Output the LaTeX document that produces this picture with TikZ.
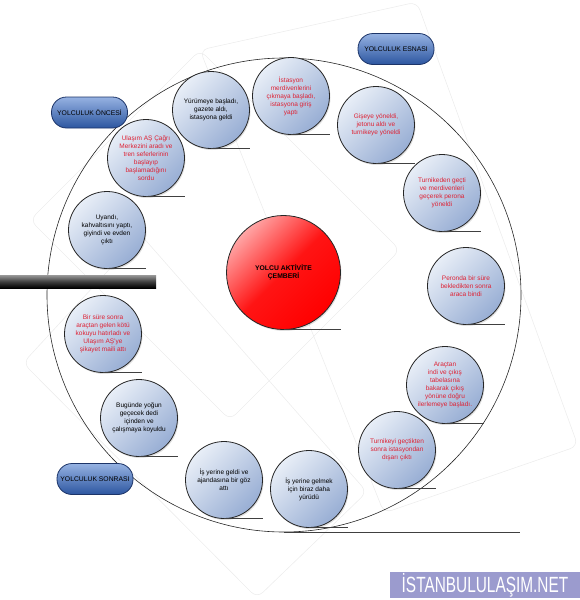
\documentclass[tikz,border=0pt]{standalone}
\usepackage{fontspec}
\setmainfont{Liberation Sans}
\usetikzlibrary{shadows}

\definecolor{olaykirmizi}{RGB}{222,34,52}
\definecolor{balonacik}{RGB}{232,238,247}
\definecolor{balonkoyu}{RGB}{152,174,212}
\definecolor{evreacik}{RGB}{150,178,226}
\definecolor{evrekoyu}{RGB}{44,86,160}
\definecolor{evrecizgi}{RGB}{28,52,104}
\definecolor{logomavi}{RGB}{155,155,206}

\begin{document}
\begin{tikzpicture}[x=1pt, y=-1pt,
  olay/.style={circle, draw=black!85, line width=0.8pt, minimum size=77pt,
               inner sep=0pt, align=center, font=\fontsize{6.5}{8}\selectfont,
               top color=balonacik, bottom color=balonkoyu, shading angle=45,
               drop shadow={opacity=0.25, shadow xshift=1pt, shadow yshift=-1.5pt}},
  kirmizi/.style={olay, text=olaykirmizi},
  evre/.style={rounded corners=15pt, draw=evrecizgi, line width=0.8pt,
               minimum width=76pt, minimum height=31pt, inner sep=1pt,
               font=\fontsize{6.8}{8}\selectfont,
               top color=evreacik, bottom color=evrekoyu},
  taban/.style={draw=black!75, line width=1pt},
  zemin/.style={draw=black!7, line width=0.6pt, rounded corners=8pt}
]
  \useasboundingbox (0,0) rectangle (579,600);

  % ========== faint background planes ==========
  \draw[zemin] (200,50) -- (417,2) -- (578,446) -- (384,513) -- cycle;
  \draw[zemin] (200,50) -- (30,220) -- (230,420) -- (400,250) -- cycle;
  \draw[zemin] (23,363) -- (141,235) -- (367,492) -- (257,598) -- cycle;

  % ========== outer ring ==========
  \node[circle, draw=black!85, line width=0.6pt, minimum size=474pt] (cember) at (284,295) {};
  \draw[taban, line width=0.8pt] (cember.south) -- ++(236,0);

  % ========== divider bar ==========
  \node[rectangle, minimum width=156pt, minimum height=13pt, inner sep=0pt,
        top color=black!40, bottom color=black, middle color=black!75] (ayrac) at (78,281.5) {};

  % ========== before the trip ==========
  \node[olay] (uyandi) at (107,230) {Uyandı,\\kahvaltısını yaptı,\\giyindi ve evden\\çıktı};
  \node[kirmizi] (cagri) at (146,158) {Ulaşım AŞ Çağrı\\Merkezini aradı ve\\tren seferlerinin\\başlayıp\\başlamadığını\\sordu};
  \node[olay] (yurume) at (211,110) {Yürümeye başladı,\\gazete aldı,\\istasyona geldi};

  % ========== during the trip ==========
  \node[kirmizi] (merdiven) at (291,96) {İstasyon\\merdivenlerini\\çıkmaya başladı,\\istasyona giriş\\yaptı};
  \node[kirmizi] (gise) at (376,125) {Gişeye yöneldi,\\jetonu aldı ve\\turnikeye yöneldi};
  \node[kirmizi] (turnike) at (442,193) {Turnikeden geçti\\ve merdivenleri\\geçerek perona\\yöneldi};
  \node[kirmizi] (peron) at (466,286) {Peronda bir süre\\bekledikten sonra\\araca bindi};
  \node[kirmizi] (aractan) at (445,385) {Araçtan\\indi ve çıkış\\tabelasına\\bakarak çıkış\\yönüne doğru\\ilerlemeye başladı.};
  \node[kirmizi] (cikis) at (397,450) {Turnikeyi geçtikten\\sonra istasyondan\\dışarı çıktı};

  % ========== after the trip ==========
  \node[olay] (gelmek) at (309,489) {İş yerine gelmek\\için biraz daha\\yürüdü};
  \node[olay] (geldi) at (224,480) {İş yerine geldi ve\\ajandasına bir göz\\attı};
  \node[olay] (bugun) at (139,418) {Bugünde yoğun\\geçecek dedi\\içinden ve\\çalışmaya koyuldu};
  \node[kirmizi] (sikayet) at (103,334) {Bir süre sonra\\araçtan gelen kötü\\kokuyu hatırladı ve\\Ulaşım AŞ'ye\\şikayet maili attı};

  % ========== centre ==========
  \node[circle, draw=black!85, line width=0.8pt, minimum size=114pt, inner sep=0pt,
        align=center, font=\bfseries\fontsize{6.8}{8}\selectfont,
        top color=red!35!white, bottom color=red, middle color=red!92!white, shading angle=45,
        drop shadow={opacity=0.25, shadow xshift=1pt, shadow yshift=-1.5pt}]
        (merkez) at (283.5,272.5) {YOLCU AKTİVİTE\\ÇEMBERİ};

  % ========== base lines ==========
  \foreach \n in {uyandi, cagri, yurume, merdiven, gise, turnike, peron,
                  aractan, cikis, gelmek, geldi, bugun, sikayet}
    \draw[taban] (\n.south) -- ++(39,0);
  \draw[taban] (merkez.south) -- ++(57,0);

  % ========== phase labels ==========
  \node[evre] (once) at (89.5,112.5) {YOLCULUK ÖNCESİ};
  \node[evre] (esnasi) at (396,49) {YOLCULUK ESNASI};
  \node[evre] (sonrasi) at (95,479) {YOLCULUK SONRASI};

  % ========== logo ==========
  \node[rectangle, fill=logomavi, minimum width=190pt, minimum height=26pt, inner sep=0pt,
        text=white, font=\fontsize{22}{22}\selectfont] (logo) at (485,585)
    {\scalebox{0.7}[1]{İSTANBULULAŞIM.NET}};

\end{tikzpicture}
\end{document}
